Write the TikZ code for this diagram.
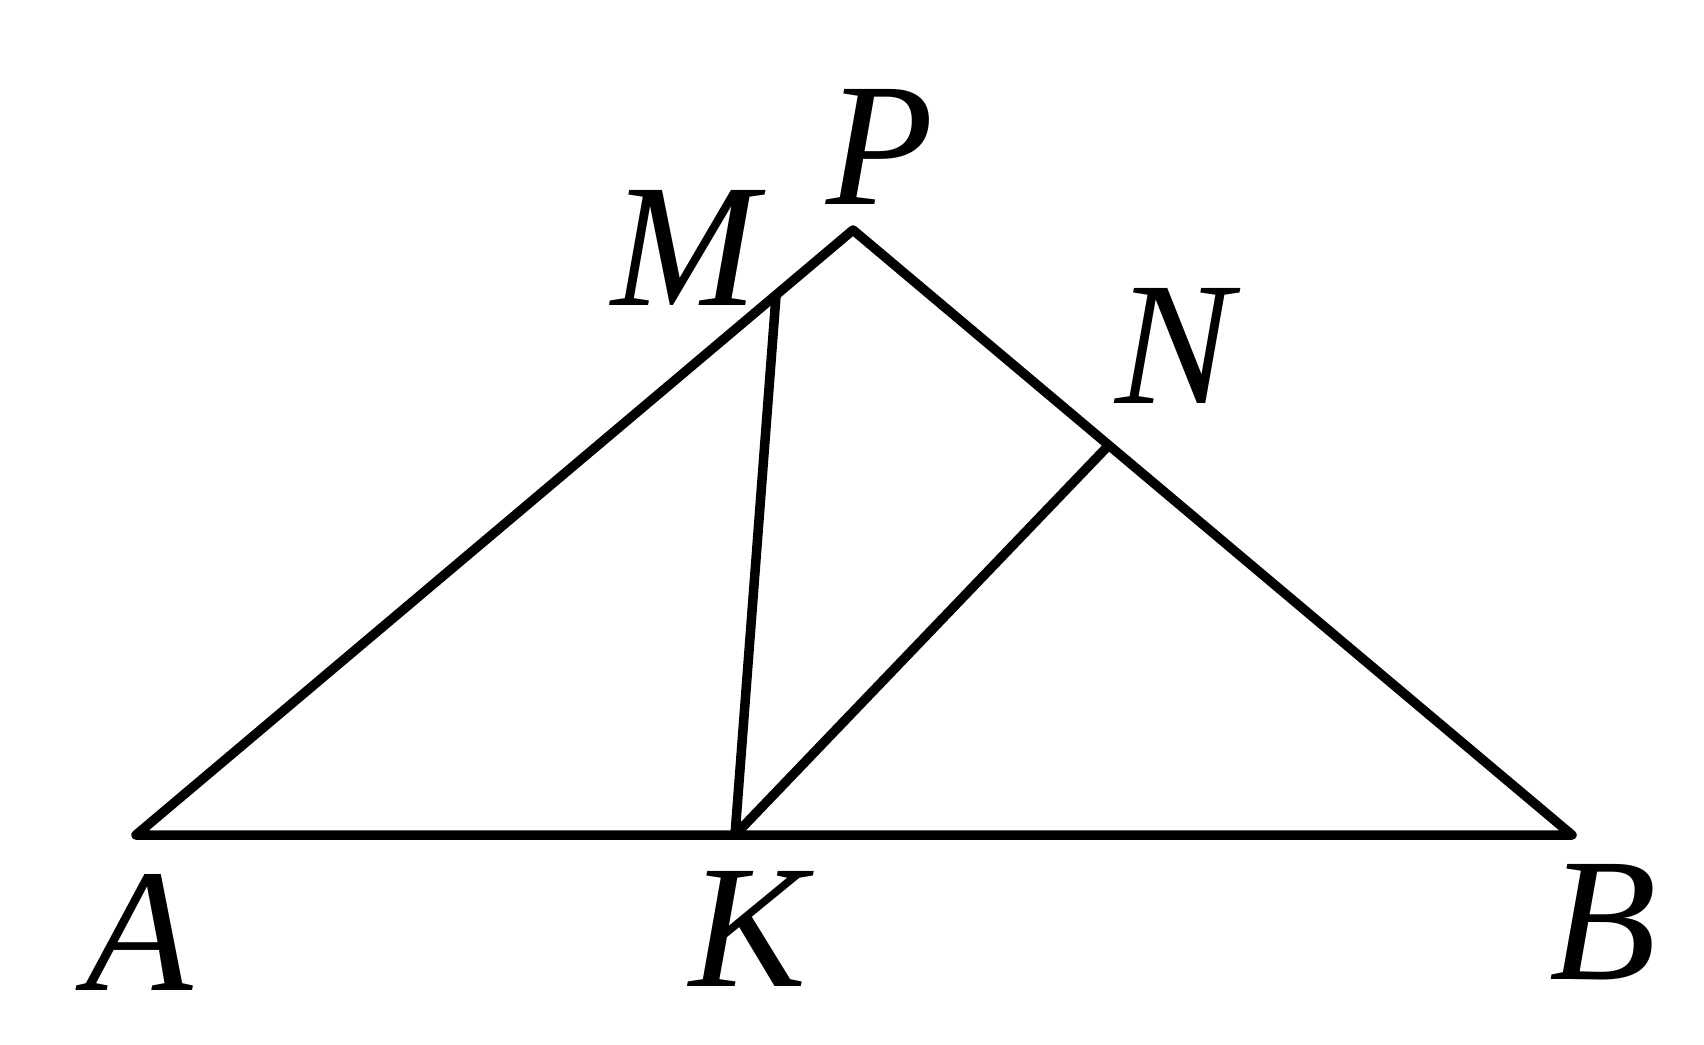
\documentclass[tikz,border=0pt]{standalone}
\usepackage{fontspec}
\setmainfont{Liberation Serif}
\usetikzlibrary{positioning}

\begin{document}
\begin{tikzpicture}[
    seg/.style={line width=2.7pt,line cap=round,line join=round},
    lbl/.style={font=\fontsize{50}{60}\selectfont\itshape,inner sep=0pt}]
  \useasboundingbox (0,0) rectangle (17.04,10.44);
  % vertices
  \coordinate (A) at (1.36,2.09);
  \coordinate (B) at (15.72,2.09);
  \coordinate (P) at (8.53,8.14);
  \coordinate (M) at (7.76,7.48);
  \coordinate (N) at (11.08,5.98);
  \coordinate (K) at (7.35,2.09);
  % triangle and segments
  \draw[seg] (A) -- (P) -- (B) -- cycle;
  \draw[seg] (M) -- (K) -- (N);
  % labels
  \node[lbl] (lA) at (1.39,1.12) {A};
  \node[lbl] (lK) at (7.48,1.15) {K};
  \node[lbl] (lB) at (16.03,1.22) {B};
  \node[lbl] (lP) at (8.80,8.97) {P};
  \node[lbl] (lM) at (6.85,7.96) {M};
  \node[lbl] (lN) at (11.74,6.98) {N};
\end{tikzpicture}
\end{document}
